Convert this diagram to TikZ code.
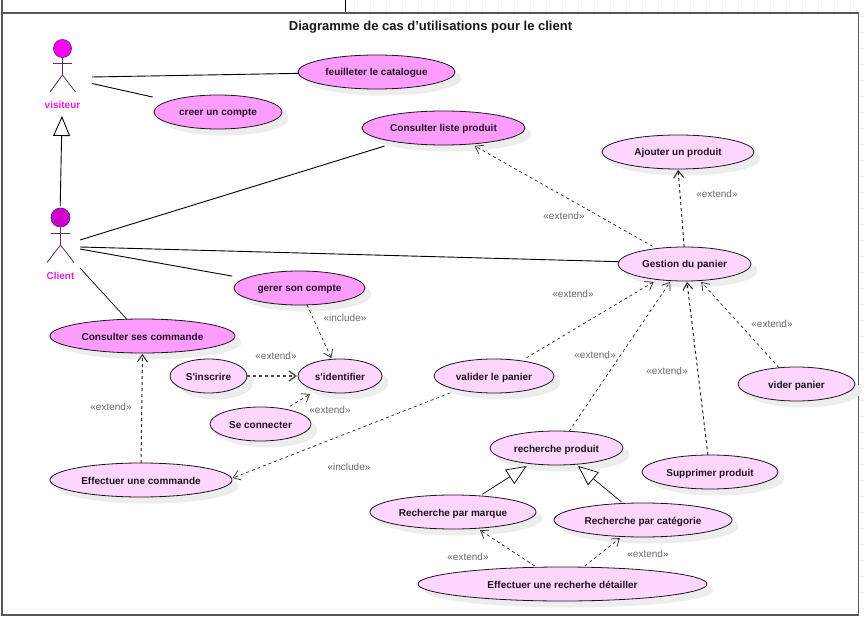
\documentclass[tikz,border=0pt]{standalone}
\usepackage{fontspec}
\setmainfont{Liberation Sans}[Ligatures=TeXOff]
\usetikzlibrary{arrows.meta,shapes.geometric,shadows}
\definecolor{ucdark}{HTML}{FF9CFF}
\definecolor{uclight}{HTML}{FFD6FF}
\definecolor{ucborder}{HTML}{1E141E}
\definecolor{actorline}{HTML}{5F2A5F}
\definecolor{visiteurhead}{HTML}{FF00FF}
\definecolor{clienthead}{HTML}{D000D0}
\definecolor{framegray}{HTML}{585858}
\definecolor{gridgray}{HTML}{F3F3F3}
\definecolor{labelgray}{HTML}{6A6A6A}
\definecolor{actorname}{HTML}{E81EE8}
\tikzset{
    usecase/.style = {ellipse,draw=ucborder,line width=0.8pt,minimum height=34,inner sep=0pt,outer sep=0pt,
        text=ucborder,text height=10pt,text depth=2pt,font=\fontsize{10}{12}\selectfont\bfseries,
        drop shadow={shadow xshift=6.5pt,shadow yshift=-6.5pt,fill=black!7,opacity=1}},
    ucmain/.style = {usecase,fill=ucdark},
    ucsub/.style = {usecase,fill=uclight},
    stereo/.style = {text=labelgray,inner sep=0pt,font=\fontsize{10}{12}\selectfont},
    actorlabel/.style = {text=actorname,inner sep=0pt,font=\fontsize{10}{12}\selectfont\bfseries},
    assoc/.style = {line width=0.9pt,black},
    dep/.style = {line width=0.7pt,black!85,dash pattern=on 3pt off 3pt,-{Straight Barb[length=7pt,width=10pt]}},
    depheavy/.style = {dep,line width=1pt},
    gen/.style = {line width=0.9pt,black,-{Triangle[open,length=20pt,width=17pt,fill=white]}},
}
\begin{document}
\begin{tikzpicture}[x=1pt,y=-1pt]
    \useasboundingbox (0,0) rectangle (864,617);
    \fill[white] (0,0) rectangle (864,617);

    \foreach \xg in {354,370,...,850}
        \draw[gridgray] (\xg,0) -- (\xg,13);
    \foreach \yg in {16,32,...,612}
        \draw[gridgray] (859,\yg) -- (864,\yg);
    \draw[black] (345,0) -- (345,13);
    \draw[framegray,line width=1.5pt] (2,0) -- (2,13);
    \draw[framegray,line width=1.5pt,fill=white] (2,13) rectangle (858.5,615);

    \node[inner sep=0pt,text=black!90,font=\fontsize{13}{15}\selectfont\bfseries] (titre) at (430.5,27)
        {Diagramme de cas d’utilisations pour le client};

    \node[ucmain,minimum width=157] (feuilleter) at (376.5,72) {feuilleter le catalogue};
    \node[ucmain,minimum width=128] (creer) at (218,112) {creer un compte};
    \node[ucmain,minimum width=163] (liste) at (443.5,128) {Consulter liste produit};
    \node[ucsub,minimum width=152] (ajouter) at (678,152) {Ajouter un produit};
    \node[ucsub,minimum width=133] (gestion) at (684.5,264) {Gestion du panier};
    \node[ucmain,minimum width=131] (gerer) at (299.5,288) {gerer son compte};
    \node[ucmain,minimum width=185] (commandes) at (142.5,336) {Consulter ses commande};
    \node[ucsub,minimum width=77] (inscrire) at (208.5,376) {S'inscrire};
    \node[ucsub,minimum width=84] (identifier) at (340,376) {s'identifier};
    \node[ucsub,minimum width=101] (connecter) at (260.5,424) {Se connecter};
    \node[ucsub,minimum width=120] (valider) at (494,376) {valider le panier};
    \node[ucsub,minimum width=117] (vider) at (796.5,384) {vider panier};
    \node[ucsub,minimum width=182] (effectuer) at (141,480) {Effectuer une commande};
    \node[ucsub,minimum width=133] (recherche) at (556.5,448) {recherche produit};
    \node[ucsub,minimum width=136] (supprimer) at (710,472) {Supprimer produit};
    \node[ucsub,minimum width=166] (marque) at (453,512) {Recherche par marque};
    \node[ucsub,minimum width=178] (categorie) at (643,520) {Recherche par catégorie};
    \node[ucsub,minimum width=289] (detail) at (562.5,584) {Effectuer une recherhe détailler};

    \node[circle,draw=actorline,fill=visiteurhead,line width=0.7pt,minimum size=18,inner sep=0pt] (visiteur) at (62.5,48.5) {};
    \draw[actorline,line width=0.8pt] (visiteur.south) -- (62.5,75) -- (50,92);
    \draw[actorline,line width=0.8pt] (62.5,75) -- (75.5,92);
    \draw[actorline,line width=0.8pt] (53,63.5) -- (72,63.5);
    \node[actorlabel] (visiteurnom) at (62.5,105) {visiteur};

    \node[circle,draw=actorline,fill=clienthead,line width=0.7pt,minimum size=19,inner sep=0pt] (client) at (60.5,217.5) {};
    \draw[actorline,line width=0.8pt] (client.south) -- (60.5,245) -- (47,262.5);
    \draw[actorline,line width=0.8pt] (60.5,245) -- (74,262.5);
    \draw[actorline,line width=0.8pt] (50.5,233.5) -- (70,233.5);
    \node[actorlabel] (clientnom) at (60.5,276) {Client};

    \coordinate (visiteurA) at (92,77);
    \coordinate (visiteurB) at (92,83.5);
    \coordinate (visiteurC) at (62,116);
    \coordinate (clientA) at (60.2,206);
    \coordinate (clientB) at (80,240);
    \coordinate (clientC) at (80,247);
    \coordinate (clientD) at (80,249);
    \coordinate (clientE) at (80,268);

    \draw[assoc] (visiteurA) -- (feuilleter.181);
    \draw[assoc,shorten >=17.4pt] (visiteurB) -- (creer.167);
    \draw[gen] (clientA) -- (visiteurC);
    \draw[assoc,shorten >=13.6pt] (clientB) -- (liste.197);
    \draw[assoc] (clientC) -- (gestion.178);
    \draw[assoc,shorten >=13.3pt] (clientD) -- (gerer.170);
    \draw[assoc,line width=0.7pt] (clientE) -- (commandes.133);

    \draw[dep,shorten <=4.7pt,shorten >=4pt] (gestion.151.5) -- (liste.330);
    \draw[depheavy,shorten >=1pt] (gestion.91) -- (ajouter.270);
    \draw[dep,shorten >=1.5pt] (gerer.294) -- (identifier.116);
    \draw[depheavy,black!70,line width=1.3pt,shorten >=1pt] (inscrire.east) -- (identifier.west);
    \draw[dep,shorten <=5.8pt,shorten >=7.6pt] (connecter.31) -- (identifier.211);
    \draw[depheavy,shorten >=1pt] (effectuer.90) -- (commandes.270);
    \draw[dep,shorten <=6pt,shorten >=4.7pt] (valider.29) -- (gestion.210);
    \draw[dep,shorten <=8.8pt,shorten >=1pt] (valider.201) -- (effectuer.1);
    \draw[dep,shorten >=1.5pt] (recherche.53) -- (gestion.231);
    \draw[depheavy,shorten >=1pt] (supprimer.97) -- (gestion.278);
    \draw[dep,shorten >=2pt] (vider.137) -- (gestion.313);
    \draw[gen,line width=0.7pt,shorten <=3pt,shorten >=4.6pt] (marque.31.4) -- (recherche.211.5);
    \draw[gen,line width=0.7pt,shorten <=2.3pt,shorten >=2.8pt] (categorie.140.5) -- (recherche.320);
    \draw[dep,shorten <=2.4pt,shorten >=3.6pt] (detail.147) -- (marque.326);
    \draw[dep,shorten <=1.9pt,shorten >=2.6pt] (detail.39) -- (categorie.218);

    \node[stereo] (ext1) at (564,216) {«extend»};
    \node[stereo] (ext2) at (717,194) {«extend»};
    \node[stereo] (ext3) at (573,294) {«extend»};
    \node[stereo] (ext4) at (595,355) {«extend»};
    \node[stereo] (ext5) at (667,371) {«extend»};
    \node[stereo] (ext6) at (772,324) {«extend»};
    \node[stereo] (ext7) at (276,356) {«extend»};
    \node[stereo] (ext8) at (330,410) {«extend»};
    \node[stereo] (ext9) at (111,407) {«extend»};
    \node[stereo] (ext10) at (468,557) {«extend»};
    \node[stereo] (ext11) at (648,554) {«extend»};
    \node[stereo] (inc1) at (345,318) {«include»};
    \node[stereo] (inc2) at (349,467) {«include»};
\end{tikzpicture}
\end{document}
